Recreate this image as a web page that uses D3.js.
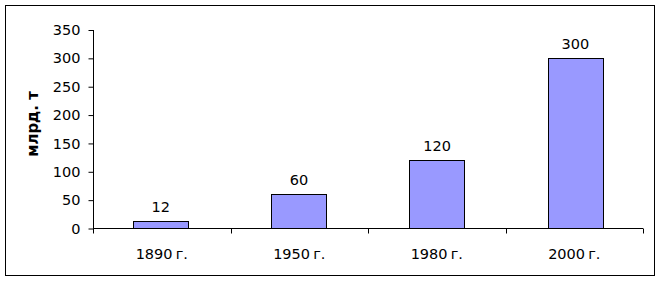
<!DOCTYPE html>
<html>
<head>
<meta charset="utf-8">
<script src="https://cdn.jsdelivr.net/npm/d3@7"></script>
<style>
  body { margin: 0; background: #fff; }
  svg { display: block; }
  text { font-family: "DejaVu Sans", Verdana, sans-serif; }
</style>
</head>
<body>
<svg id="chart" width="659" height="281"></svg>
<script>
const categories = ["1890 г.", "1950 г.", "1980 г.", "2000 г."];
const values = [12, 60, 120, 300];
const yTicks = [0, 50, 100, 150, 200, 250, 300, 350];
const yTitle = "млрд. т";

const svg = d3.select("#chart");
const fs = 14.5;

svg.append("rect")
  .attr("x", 5.5).attr("y", 5.5)
  .attr("width", 649).attr("height", 270)
  .attr("fill", "#fff").attr("stroke", "#000").attr("stroke-width", 1);

const mLeft = 93, mRight = 643, mTop = 29.5, mBottom = 228;

const x = d3.scaleBand().domain(categories).range([mLeft, mRight]).paddingInner(0.6).paddingOuter(0.29);
const xOuter = d3.scaleBand().domain(categories).range([mLeft, mRight]);
const y = d3.scaleLinear().domain([0, 350]).range([mBottom, mTop]);

// bars
svg.append("g").selectAll("rect")
  .data(values)
  .join("rect")
  .attr("x", (d, i) => Math.round(x(categories[i])) + 0.5)
  .attr("y", d => Math.round(y(d)) + 0.5)
  .attr("width", Math.round(x.bandwidth()))
  .attr("height", d => Math.round(y(0)) - Math.round(y(d)))
  .attr("fill", "#9999FF")
  .attr("stroke", "#000")
  .attr("stroke-width", 1);

// value labels
svg.append("g").selectAll("text")
  .data(values)
  .join("text")
  .attr("x", (d, i) => x(categories[i]) + x.bandwidth() / 2)
  .attr("y", d => y(d) - 9)
  .attr("text-anchor", "middle")
  .attr("font-size", fs)
  .attr("fill", "#000")
  .text(d => d);

// y axis
const yAxis = d3.axisLeft(y).tickValues(yTicks).tickSize(5).tickPadding(8).tickFormat(d3.format("d"));
const gy = svg.append("g").attr("transform", `translate(${mLeft + 0.5},0.5)`).call(yAxis);
gy.select(".domain").attr("d", `M0,${mTop}V${mBottom}`).attr("stroke", "#000");
gy.selectAll(".tick line").attr("stroke", "#000");
gy.selectAll(".tick text").attr("font-size", fs).attr("font-family", "DejaVu Sans, sans-serif").attr("fill", "#000");

// x axis with ticks at band boundaries
const gx = svg.append("g").attr("transform", `translate(0,${Math.round(mBottom) + 0.5})`);
gx.append("line").attr("x1", mLeft).attr("x2", mRight).attr("stroke", "#000");
const boundaries = categories.map(c => xOuter(c)).concat([mRight]);
gx.selectAll("line.tick").data(boundaries).join("line")
  .attr("class", "tick")
  .attr("x1", d => Math.round(d) + 0.5).attr("x2", d => Math.round(d) + 0.5)
  .attr("y1", 0).attr("y2", 5).attr("stroke", "#000");
gx.selectAll("text").data(categories).join("text")
  .attr("x", d => xOuter(d) + xOuter.bandwidth() / 2)
  .attr("y", 30)
  .attr("text-anchor", "middle")
  .attr("font-size", fs)
  .attr("word-spacing", -1.5)
  .attr("fill", "#000")
  .text(d => d);

// y title
svg.append("text")
  .attr("transform", `translate(38,124) rotate(-90)`)
  .attr("text-anchor", "middle")
  .attr("font-size", 15)
  .attr("font-weight", "bold")
  .attr("fill", "#000")
  .text(yTitle);
</script>
</body>
</html>
